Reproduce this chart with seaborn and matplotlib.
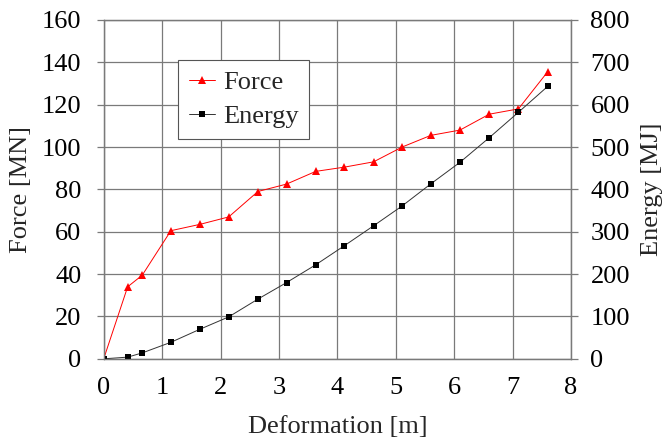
import matplotlib
matplotlib.use("Agg")
import matplotlib.pyplot as plt
import seaborn as sns
import pandas as pd

# Datos
deformacion = [0.0, 0.41, 0.66, 1.15, 1.65, 2.14, 2.64, 3.13, 3.63, 4.12,
               4.62, 5.11, 5.60, 6.10, 6.60, 7.10, 7.60]
fuerza = [0.0, 34.0, 39.5, 60.5, 63.5, 67.0, 79.0, 82.5, 88.5, 90.5,
          93.0, 100.0, 105.5, 108.0, 115.5, 118.0, 135.5]
energia = [0, 4, 14, 39, 70, 99, 141, 180, 222, 267,
           314, 361, 413, 464, 522, 582, 643]

df = pd.DataFrame({"Deformation": deformacion, "Force": fuerza, "Energy": energia})

sns.set_theme(style="white")
plt.rcParams["font.family"] = ["Liberation Serif", "DejaVu Serif"]
tam = 19

gris = "#7a7a7a"

fig, ax = plt.subplots(figsize=(6.69, 4.43), dpi=100)
fig.subplots_adjust(left=0.155, right=0.8535, top=0.955, bottom=0.19)
ax2 = ax.twinx()

sns.lineplot(data=df, x="Deformation", y="Force", ax=ax, color="red",
             linewidth=0.7, marker="^", markersize=5.5, markeredgewidth=0,
             label="Force", legend=False)
sns.lineplot(data=df, x="Deformation", y="Energy", ax=ax2, color="#333333",
             linewidth=0.7, marker="s", markersize=5, markeredgewidth=0,
             markerfacecolor="black", label="Energy", legend=False)

ax.set_xlim(0, 8)
ax.set_ylim(0, 160)
ax2.set_ylim(0, 800)
ax.set_xticks(range(0, 9))
ax.set_yticks(range(0, 161, 20))
ax2.set_yticks(range(0, 801, 100))

ax.grid(True, color=gris, linewidth=0.9)
ax.set_axisbelow(True)

for a in (ax, ax2):
    for s in a.spines.values():
        s.set_color(gris)
        s.set_linewidth(0.9)
    a.tick_params(colors=gris, labelcolor="black", length=5, width=0.9,
                  labelsize=tam)
ax.tick_params(axis="y", pad=11)
ax2.tick_params(axis="y", pad=9)
ax.tick_params(axis="x", pad=8)

ax.set_xlabel("Deformation [m]", fontsize=tam, labelpad=12)
ax.set_ylabel("Force [MN]", fontsize=tam, labelpad=7)
ax2.set_ylabel("Energy [MJ]", fontsize=tam, labelpad=8)

h1, l1 = ax.get_legend_handles_labels()
h2, l2 = ax2.get_legend_handles_labels()
leg = ax2.legend(h1 + h2, l1 + l2, loc="upper left",
                 bbox_to_anchor=(0.159, 0.882), fontsize=tam, frameon=True,
                 fancybox=False, edgecolor="#555555", framealpha=1,
                 handlelength=1.0, handletextpad=0.3, borderpad=0.4,
                 labelspacing=0.4, borderaxespad=0)
leg.get_frame().set_linewidth(0.8)

fig.savefig("out.png", dpi=100)
plt.close(fig)
